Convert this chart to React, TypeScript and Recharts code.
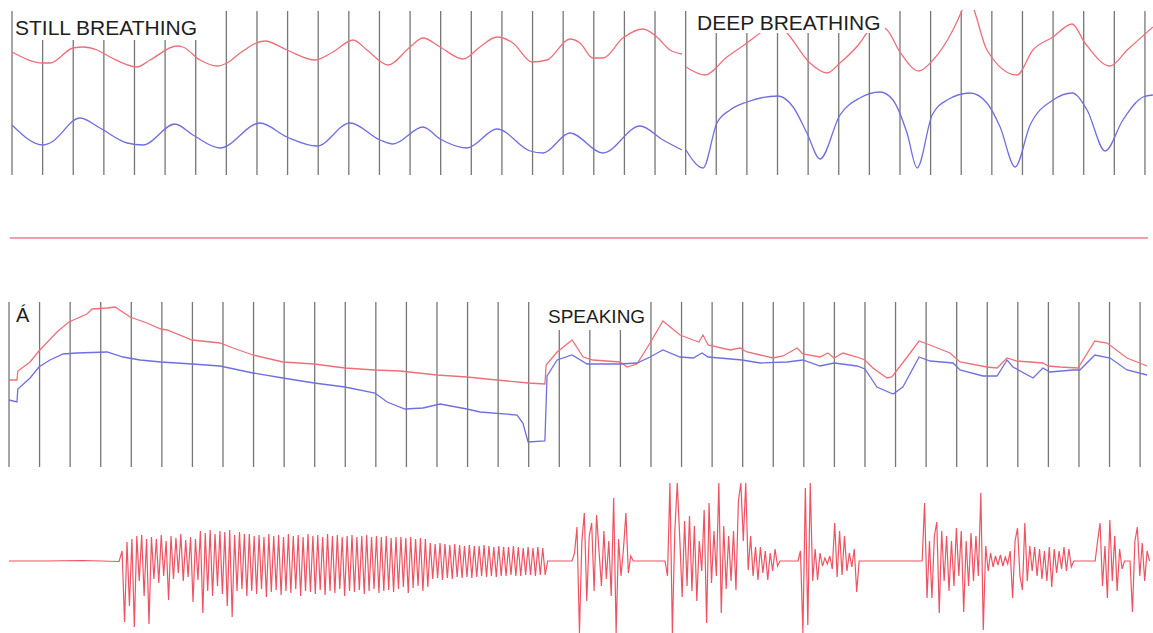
import React from 'react';
import { LineChart, Line, XAxis, YAxis, ReferenceLine } from 'recharts';

// ---------- Top panel (breathing), time in grid units, value in arbitrary units ----------
const topGridTimes = [0,1,2,3,4,5,6,7,8,9,10,11,12,13,14,15,16,17,18,19,20,21,22,23,24,25,26,27,28,29,30,31,32,33,34,35,36,37];

const stillRed: [number, number][] = [
  [0,123],[1.01,112],[1.24,112],[1.99,127],[2.32,128],[2.78,125],[3.2,118],[4.08,108],[4.51,115],
  [5.39,129],[5.58,128],[6.14,115],[6.7,109],[7.02,112],[7.45,122],[8.26,134],[8.98,125],[9.9,115],
  [10.48,123],[11.14,135],[11.59,125],[12.28,110],[13.0,128],[13.42,137],[13.98,128],[14.73,116],
  [15.28,128],[15.84,138],[16.36,132],[16.98,113],[17.47,115],[18.22,136],[18.55,132],[18.97,117],
  [19.3,117],[19.95,137],[20.61,146],[21.06,138],[21.49,125],[21.88,121],
];

const stillBlue: [number, number][] = [
  [0,50],[1.01,30],[1.24,32],[2.22,57],[2.87,47],[3.76,32],[4.28,30],[5.32,51],[5.91,40],[6.79,27],
  [8.1,52],[8.98,38],[9.96,29],[11.04,52],[12.02,35],[12.44,31],[13.42,48],[13.98,36],[14.86,27],
  [15.84,46],[16.92,24],[17.34,22],[18.22,42],[19.3,22],[20.51,49],[21.26,35],[21.88,25],
];

const deepRed: [number, number][] = [
  [22.01,108],[22.63,100],[23.35,118],[24.0,132],[24.43,142],[24.92,153],[25.31,142],[26.06,112],
  [26.62,102],[27.04,112],[27.69,132],[27.92,142],[28.22,150],[28.58,145],[29.0,123],[29.62,104],
  [30.08,115],[30.73,145],[31.03,165],[31.22,180],[31.42,165],[31.84,125],[32.82,100],[33.34,125],
  [34.0,138],[34.62,151],[35.04,132],[35.86,109],[36.42,125],[37.26,148],
];

const deepBlue: [number, number][] = [
  [22.01,25],[22.57,7],[23.02,52],[23.45,65],[24.0,73],[25.02,79],[25.51,68],[25.96,42],[26.39,16],
  [27.04,60],[27.69,77],[28.35,83],[28.77,75],[29.23,42],[29.56,7],[30.05,60],[30.54,75],[31.29,82],
  [31.84,72],[32.27,48],[32.76,8],[33.25,50],[34.0,75],[34.62,82],[35.11,65],[35.7,24],[36.28,55],
  [36.94,78],[37.26,80],
];

// ---------- Bottom panel (speaking) ----------
const bottomGridTimes = [0,1,2,3,4,5,6,7,8,9,10,11,12,13,14,15,16,17,18,19,20,21,22,23,24,25,26,27,28,29,30,31,32,33,34,35,36,37];

const speakRed: [number, number][] = [
  [0,87],[0.26,87],[0.29,96],[0.69,105],[0.98,116],[1.57,135],[1.96,145],[2.55,153],[2.72,158],
  [3.21,159],[3.47,160],[3.96,150],[4.51,144],[4.97,138],[5.17,137],[5.99,127],[6.9,124],[7.33,119],
  [7.98,112],[8.96,105],[9.98,103],[10.99,99],[11.97,97],[12.79,96],[14.0,92],[14.98,90],[15.96,87],
  [16.98,84],[17.53,83],[17.57,102],[17.93,115],[18.42,127],[18.78,110],[19.1,107],[19.99,105],
  [20.22,100],[20.54,103],[20.97,124],[21.39,146],[21.95,132],[22.38,127],[22.57,125],[22.7,132],
  [22.87,122],[23.59,117],[23.91,119],[24.14,115],[24.57,112],[24.99,109],[25.32,111],[25.78,119],
  [25.97,113],[26.53,110],[26.79,114],[26.99,109],[27.28,114],[27.74,110],[28.0,107],[28.26,99],
  [28.72,89],[28.88,90],[29.38,110],[29.77,126],[30.13,122],[30.78,114],[31.11,105],[31.99,100],
  [32.32,99],[32.65,109],[32.97,106],[33.82,104],[33.99,101],[34.38,100],[34.97,99],[35.52,126],
  [35.92,124],[36.57,109],[37.23,101],
];

const speakBlue: [number, number][] = [
  [0,67],[0.26,65],[0.29,78],[0.69,89],[0.98,100],[1.34,107],[1.77,113],[2.22,114],[3.21,115],
  [3.73,110],[4.29,107],[4.97,105],[5.99,103],[6.9,101],[7.98,94],[8.96,89],[9.98,84],[10.99,80],
  [11.97,74],[12.37,65],[12.95,58],[13.54,59],[14.1,63],[14.98,58],[15.41,55],[16.62,52],[16.81,44],
  [16.98,25],[17.53,26],[17.6,91],[17.93,107],[18.42,112],[18.91,103],[19.99,103],[20.54,104],
  [20.97,110],[21.39,117],[21.95,110],[22.38,109],[22.67,114],[22.87,110],[23.98,107],[24.57,104],
  [25.45,105],[25.97,107],[26.53,101],[26.99,104],[27.74,101],[28.0,98],[28.39,80],[28.92,73],
  [29.24,80],[29.77,110],[30.13,106],[30.88,104],[31.11,97],[31.86,91],[32.32,91],[32.65,107],
  [32.84,100],[33.5,89],[33.82,99],[34.05,95],[34.81,97],[35.03,97],[35.52,112],[36.02,109],
  [36.57,97],[37.23,92],
];

// ---------- Audio waveform: segments of samples (start time, sample interval, samples) ----------
const audioSilence = { start: 0, dt: 1.2, values: [0, 0, 0.5, -0.5] };
const audioVowel = { start: 3.7, dt: 0.08, values: [
  10,-61,19,-45,22,-66,25,-20,26,-35,22,-63,
  24,-18,22,-22,26,-15,20,-39,25,-18,23,-12,27,-20,21,-16,24,-41,22,-19,
  30,-52,28,-30,31,-35,27,-25,30,-33,29,-45,31,-56,26,-30,29,-28,27,-35,
  27,-30,25,-33,26,-28,24,-36,27,-31,25,-29,26,-34,24,-30,27,-32,25,-28,
  26,-35,24,-30,27,-31,25,-33,26,-29,24,-34,27,-30,25,-32,26,-28,24,-35,
  25,-30,26,-31,24,-29,25,-33,26,-30,24,-28,25,-32,24,-30,25,-29,23,-31,
  24,-28,
  24,-26,23,-32,24,-27,22,-25,23,-30,22,-26,
  18,-18,17,-17,18,-19,17,-17,16,-18,17,-16,16,-17,15,-16,16,-17,15,-16,
  15,-15,16,-16,15,-15,14,-16,15,-15,14,-15,14,-14,15,-15,14,-15,13,-14,
  14,-14,13,-15,14,-14,13,-14,0,
] };
const audioBurstA = { start: 18.42, dt: 0.08, values: [
  0,8,34,-72,20,48,-40,25,38,-30,46,10,-25,30,-18,20,-35,63,-72,22,-15,12,48,-12,5,0,
] };
const audioBurstB = { start: 21.46, dt: 0.08, values: [
  0,-15,78,-72,30,78,24,-36,40,-25,45,-30,35,-40,20,-10,51,-62,58,-22,30,-15,78,-52,35,-28,25,-20,
  30,-29,60,78,20,78,-9,25,-15,14,-19,14,-12,10,-19,8,-10,12,-5,0,
] };
const audioBurstC = { start: 25.81, dt: 0.08, values: [
  0,10,-72,73,-64,78,-20,12,-19,8,-5,3,-3,5,-8,38,-16,30,-14,25,-10,8,-6,12,-31,0,
] };
const audioBurstD = { start: 29.87, dt: 0.08, values: [
  0,58,-37,20,-37,25,39,-52,30,-20,25,-30,20,-25,33,-15,30,-51,20,-25,28,-20,25,-15,68,-69,15,-10,
  8,-6,5,-4,6,-5,4,-3,10,-37,20,33,-15,-29,38,-20,15,-10,14,-15,12,-18,10,-20,14,-26,12,-12,10,-8,
  14,-10,12,-6,0,
] };
const audioBurstE = { start: 35.53, dt: 0.08, values: [0,20,38,-25,15,-37,41,-20,25,-30,12,-8,0] };
const audioBurstF = { start: 36.67, dt: 0.08, values: [0,-51,20,34,-15,18,-20,10,0] };

const audioSegments = [audioSilence, audioVowel, audioBurstA, audioBurstB, audioBurstC, audioBurstD, audioBurstE, audioBurstF];

const toPts = (arr: [number, number][]) => arr.map(([t, v]) => ({ t, v }));
const audioData = audioSegments.flatMap((s) => s.values.map((v, i) => ({ t: +(s.start + i * s.dt).toFixed(3), v })));

const RED = '#ee6f7a';
const BLUE = '#6f6fe0';
const GRID = '#767676';
const FONT = '"Liberation Sans", Arial, sans-serif';

const Label = ({ text, left, top, size, box }: { text: string; left: number; top: number; size: number; box?: { l: number; t: number; w: number; h: number } }) => (
  <>
    {box && <div style={{ position: 'absolute', left: box.l, top: box.t, width: box.w, height: box.h, background: '#fff' }} />}
    <div style={{ position: 'absolute', left, top, fontFamily: FONT, fontSize: size, lineHeight: 1, color: '#1e1e1e', whiteSpace: 'nowrap' }}>{text}</div>
  </>
);

export default function App() {
  return (
    <div style={{ position: 'absolute', left: 0, top: 0, width: 1153, height: 633, background: '#fff', overflow: 'hidden' }}>
      {/* Top panel */}
      <div style={{ position: 'absolute', left: 0, top: 0 }}>
        <LineChart width={1153} height={250} margin={{ top: 10, right: 0, bottom: 0, left: 0 }}>
          <XAxis type="number" dataKey="t" domain={[-0.392, 37.263]} allowDataOverflow hide />
          <YAxis type="number" dataKey="v" domain={[-75, 165]} allowDataOverflow hide />
          {topGridTimes.map((g) => (
            <ReferenceLine key={g} segment={[{ x: g, y: 0 }, { x: g, y: 164 }]} stroke={GRID} strokeWidth={1.3} />
          ))}
          <ReferenceLine segment={[{ x: -0.07, y: -63 }, { x: 37.1, y: -63 }]} stroke="#f0a0a8" strokeWidth={2.2} />
          <Line data={toPts(stillRed)} dataKey="v" type="monotone" stroke={RED} strokeWidth={1.3} dot={false} isAnimationActive={false} />
          <Line data={toPts(stillBlue)} dataKey="v" type="monotone" stroke={BLUE} strokeWidth={1.3} dot={false} isAnimationActive={false} />
          <Line data={toPts(deepRed)} dataKey="v" type="monotone" stroke={RED} strokeWidth={1.3} dot={false} isAnimationActive={false} />
          <Line data={toPts(deepBlue)} dataKey="v" type="monotone" stroke={BLUE} strokeWidth={1.3} dot={false} isAnimationActive={false} />
        </LineChart>
      </div>

      {/* Bottom panel */}
      <div style={{ position: 'absolute', left: 0, top: 302 }}>
        <LineChart width={1153} height={165} margin={{ top: 0, right: 0, bottom: 0, left: 0 }}>
          <XAxis type="number" dataKey="t" domain={[-0.2944, 37.422]} allowDataOverflow hide />
          <YAxis type="number" dataKey="v" domain={[0, 165]} allowDataOverflow hide />
          {bottomGridTimes.map((g) => (
            <ReferenceLine key={g} segment={[{ x: g, y: 0 }, { x: g, y: 165 }]} stroke={GRID} strokeWidth={1.3} />
          ))}
          <Line data={toPts(speakRed)} dataKey="v" type="linear" stroke={RED} strokeWidth={1.3} dot={false} isAnimationActive={false} />
          <Line data={toPts(speakBlue)} dataKey="v" type="linear" stroke={BLUE} strokeWidth={1.3} dot={false} isAnimationActive={false} />
        </LineChart>
      </div>

      {/* Audio waveform */}
      <div style={{ position: 'absolute', left: 0, top: 478 }}>
        <LineChart width={1153} height={155} margin={{ top: 0, right: 0, bottom: 0, left: 0 }}>
          <XAxis type="number" dataKey="t" domain={[-0.2944, 37.422]} allowDataOverflow hide />
          <YAxis type="number" dataKey="v" domain={[-72, 83]} allowDataOverflow hide />
          <Line data={audioData} dataKey="v" type="linear" stroke="#ec3446" strokeOpacity={0.85} strokeWidth={1.2} dot={false} isAnimationActive={false} />
        </LineChart>
      </div>

      <Label text="STILL BREATHING" left={15} top={16.7} size={21} box={{ l: 14, t: 0, w: 191, h: 40 }} />
      <Label text="DEEP BREATHING" left={697} top={11.7} size={21} box={{ l: 688, t: 0, w: 197, h: 33 }} />
      <Label text="Á" left={16} top={305} size={20} />
      <Label text="SPEAKING" left={548} top={307} size={19} box={{ l: 540, t: 295, w: 108, h: 35 }} />
    </div>
  );
}
